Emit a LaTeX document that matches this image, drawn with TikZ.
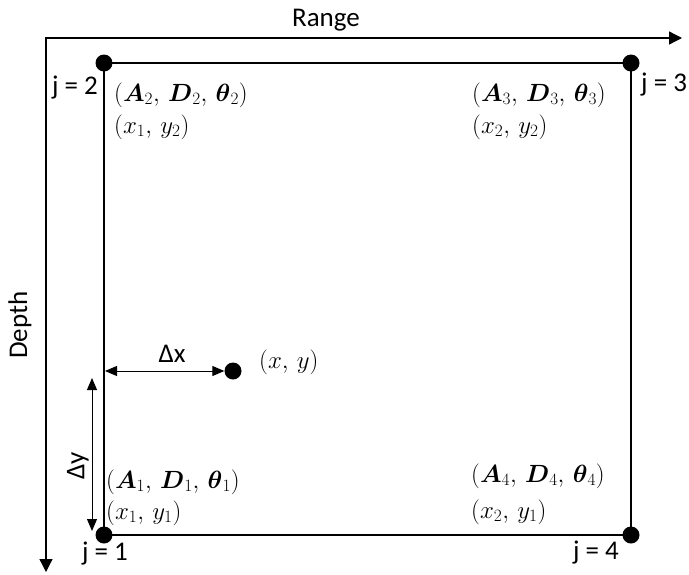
\documentclass[tikz,border=0pt]{standalone}
\usepackage{amsmath}
\usepackage{fontspec}
\setmainfont{Carlito}
\usetikzlibrary{arrows.meta}
\begin{document}
\begin{tikzpicture}[x=1pt,y=-1pt,
  dot/.style={circle,fill=black,inner sep=0pt,minimum size=17pt},
  rect/.style={line width=2.4pt},
  axis/.style={line width=1.3pt},
  dim/.style={line width=1pt,{Triangle[length=12pt,width=10pt]}-{Triangle[length=12pt,width=10pt]}},
  txt/.style={font=\fontsize{27}{31}\selectfont,inner sep=0pt},
  mlab/.style={font=\fontsize{23.5}{27}\selectfont,inner sep=0pt,anchor=west}]
\useasboundingbox (0,0) rectangle (689,574);
% axes
\coordinate (o) at (46,38);
\coordinate (rx) at (682,38);
\coordinate (dy) at (46,572);
\draw[axis,{Triangle[length=13pt,width=13pt]}-{Triangle[length=13pt,width=13pt]}] (rx) -- (o) -- (dy);
\node[txt] (range) at (326,20) {Range};
\node[txt,rotate=90] (depth) at (20,325) {Depth};
% corners
\coordinate (c1) at (104,535);
\coordinate (c2) at (104,63);
\coordinate (c3) at (631,63);
\coordinate (c4) at (631,535);
\draw[rect] (c1) -- (c2) -- (c3) -- (c4) -- cycle;
\node[dot] (p1) at (c1) {};
\node[dot] (p2) at (c2) {};
\node[dot] (p3) at (c3) {};
\node[dot] (p4) at (c4) {};
\node[txt,anchor=east] (j2) at (98,88) {j = 2};
\node[txt,anchor=west] (j3) at (641,85) {j = 3};
\node[txt] (j1) at (105,554) {j = 1};
\node[txt] (j4) at (596,553) {j = 4};
% corner labels
\node[mlab] (l2a) at (114,95) {$(\boldsymbol{A}_2,\,\boldsymbol{D}_2,\,\boldsymbol{\theta}_2)$};
\node[mlab] (l2b) at (114,127) {$(x_1,\,y_2)$};
\node[mlab] (l3a) at (472,95) {$(\boldsymbol{A}_3,\,\boldsymbol{D}_3,\,\boldsymbol{\theta}_3)$};
\node[mlab] (l3b) at (472,127) {$(x_2,\,y_2)$};
\node[mlab] (l1a) at (106,482) {$(\boldsymbol{A}_1,\,\boldsymbol{D}_1,\,\boldsymbol{\theta}_1)$};
\node[mlab] (l1b) at (106,513) {$(x_1,\,y_1)$};
\node[mlab] (l4a) at (471,476) {$(\boldsymbol{A}_4,\,\boldsymbol{D}_4,\,\boldsymbol{\theta}_4)$};
\node[mlab] (l4b) at (471,512) {$(x_2,\,y_1)$};
% point
\node[dot] (pt) at (233,371) {};
\node[mlab] (ptl) at (259,362) {$(x,\,y)$};
\coordinate (dxs) at (105,371);
\draw[dim] (dxs) -- (pt.west);
\node[txt] (dxl) at (172,354) {Δx};
\coordinate (dyt) at (92,378);
\coordinate (dyb) at (92,531);
\draw[dim] (dyt) -- (dyb);
\node[txt,rotate=90] (dyl) at (78,466) {Δy};
\end{tikzpicture}
\end{document}
